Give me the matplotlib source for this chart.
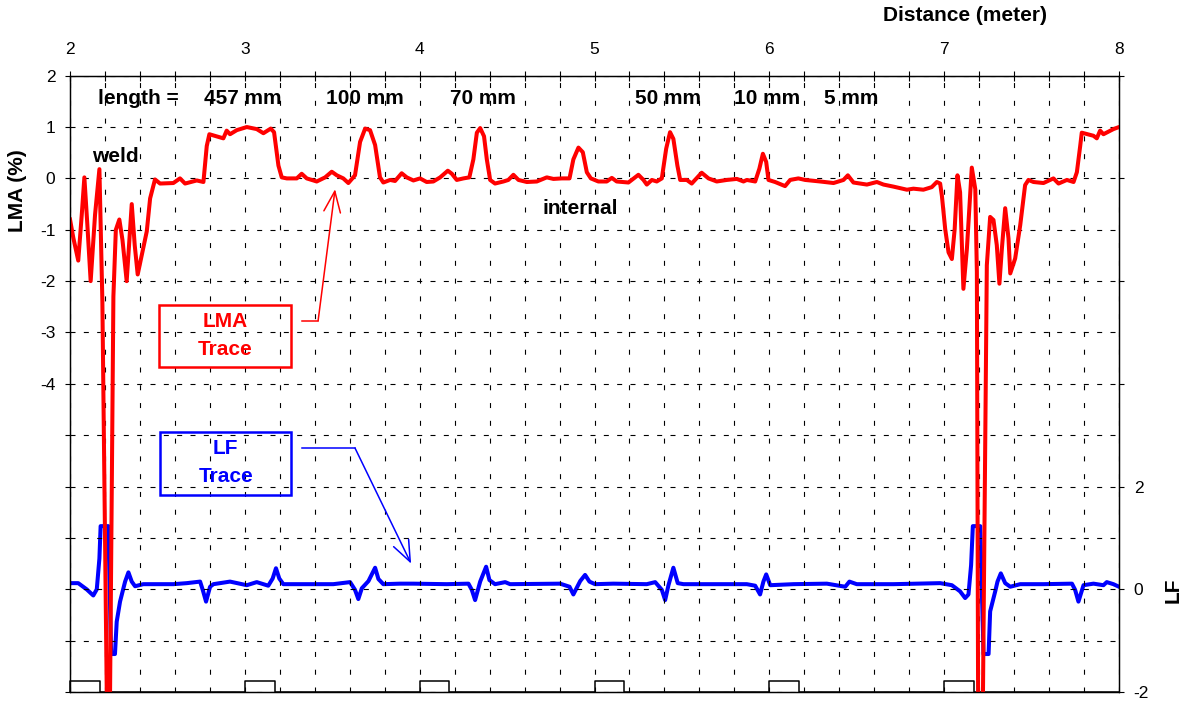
import matplotlib
matplotlib.use("Agg")
import matplotlib.pyplot as plt
import numpy as np
from matplotlib.patches import Rectangle

plt.rcParams["font.family"] = ["Liberation Sans", "DejaVu Sans"]

# LMA trace (%)
lma_x = [2.000, 2.019, 2.047, 2.067, 2.082, 2.099, 2.118, 2.143, 2.168, 2.185,
         2.210, 2.219, 2.229, 2.248, 2.262, 2.282, 2.300, 2.324, 2.353, 2.370,
         2.387, 2.439, 2.458, 2.486, 2.515, 2.591, 2.629, 2.658, 2.725, 2.763,
         2.782, 2.797, 2.858, 2.877, 2.896, 2.915, 2.954, 3.011, 3.068, 3.106,
         3.148, 3.167, 3.192, 3.211, 3.240, 3.297, 3.325, 3.354, 3.411, 3.459,
         3.497, 3.526, 3.563, 3.592, 3.630, 3.659, 3.688, 3.716, 3.745, 3.773,
         3.792, 3.831, 3.859, 3.897, 3.926, 3.964, 4.002, 4.040, 4.078, 4.117,
         4.161, 4.184, 4.212, 4.250, 4.284, 4.307, 4.327, 4.346, 4.368, 4.384,
         4.403, 4.431, 4.479, 4.507, 4.536, 4.565, 4.613, 4.670, 4.727, 4.765,
         4.813, 4.857, 4.879, 4.908, 4.933, 4.956, 4.979, 5.022, 5.070, 5.099,
         5.127, 5.194, 5.251, 5.280, 5.299, 5.328, 5.356, 5.385, 5.410, 5.432,
         5.451, 5.474, 5.490, 5.528, 5.556, 5.613, 5.652, 5.699, 5.757, 5.814,
         5.852, 5.871, 5.919, 5.943, 5.963, 5.982, 5.995, 6.033, 6.090, 6.119,
         6.166, 6.205, 6.291, 6.367, 6.424, 6.449, 6.481, 6.558, 6.615, 6.653,
         6.710, 6.787, 6.824, 6.881, 6.929, 6.958, 6.977, 6.987, 7.006, 7.025,
         7.044, 7.060, 7.076, 7.091, 7.110, 7.130, 7.158, 7.178, 7.187, 7.194,
         7.208, 7.222, 7.244, 7.263, 7.282, 7.301, 7.316, 7.330, 7.349, 7.368,
         7.378, 7.406, 7.435, 7.463, 7.482, 7.511, 7.568, 7.625, 7.654, 7.702,
         7.740, 7.759, 7.778, 7.787, 7.854, 7.873, 7.892, 7.911, 7.968, 8.000]
lma_y = [-0.80, -1.16, -1.60, -0.71, 0.02, -0.90, -2.00, -0.71, 0.18, -2.40,
         -10.0, -10.8, -10.0, -2.30, -1.00, -0.80, -1.20, -2.00, -0.50, -1.30,
         -1.87, -1.03, -0.39, -0.02, -0.10, -0.09, 0.00, -0.10, -0.04, -0.07,
         0.63, 0.86, 0.80, 0.78, 0.93, 0.86, 0.94, 1.00, 0.96, 0.88,
         0.97, 0.90, 0.25, 0.02, 0.00, 0.00, 0.09, 0.00, -0.06, 0.02,
         0.13, 0.06, 0.00, -0.09, 0.06, 0.71, 0.97, 0.94, 0.65, 0.02,
         -0.08, -0.03, -0.05, 0.10, 0.02, -0.04, 0.00, -0.07, -0.06, 0.02,
         0.15, 0.09, -0.03, 0.00, 0.02, 0.37, 0.89, 0.98, 0.82, 0.37,
         -0.03, -0.10, -0.06, -0.03, 0.07, -0.03, -0.07, -0.06, 0.02, -0.01,
         0.00, 0.00, 0.37, 0.60, 0.51, 0.12, 0.00, -0.06, -0.06, 0.01,
         -0.06, -0.08, 0.07, -0.03, -0.12, -0.03, -0.06, 0.00, 0.58, 0.90,
         0.77, 0.25, -0.03, -0.03, -0.10, 0.11, 0.00, -0.06, -0.03, -0.01,
         -0.06, -0.03, -0.06, 0.19, 0.48, 0.32, -0.03, -0.07, -0.15, -0.03,
         0.00, -0.03, -0.06, -0.09, -0.03, 0.06, -0.08, -0.12, -0.07, -0.12,
         -0.16, -0.22, -0.20, -0.22, -0.17, -0.07, -0.10, -0.34, -0.99, -1.44,
         -1.57, -0.99, 0.06, -0.27, -2.15, -1.37, 0.21, -0.21, -1.82, -10.0,
         -10.8, -10.0, -1.69, -0.75, -0.81, -1.30, -2.05, -1.37, -0.58, -1.17,
         -1.85, -1.56, -0.91, -0.13, -0.03, -0.07, -0.09, 0.00, -0.10, -0.03,
         -0.07, 0.12, 0.63, 0.89, 0.83, 0.78, 0.93, 0.86, 0.96, 1.00]

# LF trace
lf_x = [2.000, 2.047, 2.095, 2.133, 2.153, 2.168, 2.175, 2.219, 2.235, 2.257,
        2.267, 2.286, 2.315, 2.334, 2.353, 2.372, 2.419, 2.496, 2.591, 2.668,
        2.744, 2.759, 2.778, 2.801, 2.820, 2.915, 3.011, 3.068, 3.134, 3.159,
        3.178, 3.197, 3.220, 3.316, 3.506, 3.602, 3.630, 3.649, 3.669, 3.707,
        3.745, 3.764, 3.792, 3.888, 3.964, 4.155, 4.279, 4.298, 4.317, 4.346,
        4.380, 4.399, 4.431, 4.489, 4.517, 4.803, 4.857, 4.879, 4.918, 4.946,
        4.971, 5.003, 5.108, 5.299, 5.347, 5.385, 5.404, 5.423, 5.451, 5.476,
        5.509, 5.871, 5.919, 5.947, 5.966, 5.982, 6.005, 6.138, 6.329, 6.434,
        6.458, 6.500, 6.710, 6.977, 7.044, 7.091, 7.120, 7.139, 7.154, 7.164,
        7.206, 7.225, 7.254, 7.263, 7.292, 7.305, 7.324, 7.349, 7.378, 7.435,
        7.568, 7.731, 7.749, 7.768, 7.797, 7.854, 7.911, 7.930, 7.968, 8.000]
lf_y = [0.12, 0.12, 0.00, -0.12, 0.00, 0.60, 1.23, 1.23, -1.26, -1.26,
        -0.63, -0.24, 0.15, 0.33, 0.15, 0.06, 0.10, 0.10, 0.10, 0.12,
        0.15, -0.01, -0.24, 0.05, 0.10, 0.15, 0.08, 0.14, 0.07, 0.21,
        0.41, 0.21, 0.10, 0.10, 0.10, 0.14, -0.01, -0.19, 0.02, 0.16,
        0.42, 0.20, 0.10, 0.11, 0.11, 0.10, 0.11, -0.01, -0.21, 0.15,
        0.44, 0.18, 0.10, 0.14, 0.10, 0.11, 0.05, -0.10, 0.16, 0.28,
        0.15, 0.10, 0.11, 0.10, 0.14, -0.01, -0.21, 0.08, 0.42, 0.12,
        0.10, 0.10, 0.07, -0.10, 0.15, 0.29, 0.08, 0.10, 0.11, 0.05,
        0.15, 0.10, 0.10, 0.12, 0.08, -0.04, -0.17, -0.10, 0.47, 1.23,
        1.23, -1.26, -1.26, -0.43, -0.04, 0.15, 0.31, 0.12, 0.05, 0.10,
        0.10, 0.11, -0.01, -0.24, 0.08, 0.11, 0.08, 0.14, 0.10, 0.05]

# metre marker pulses along the bottom
pulse_starts = [2.0, 3.0, 4.0, 5.0, 6.0, 7.0]
pulse_width = 0.17
pulse_height = 0.22

# defect labels: (text, x position)
defect_labels = [("length =", 2.389), ("457 mm", 2.990), ("100 mm", 3.688),
                 ("70 mm", 4.363), ("50 mm", 5.420), ("10 mm", 5.987),
                 ("5 mm", 6.468)]

RED = "#ff0000"
BLUE = "#0000ff"

fig = plt.figure(figsize=(11.83, 7.04), dpi=100)
ax = fig.add_axes([0.0592, 0.017, 0.8867, 0.8755])
ax2 = ax.twinx()
ax.set_zorder(ax2.get_zorder() + 1)
ax.patch.set_visible(False)

ax.set_xlim(2, 8)
ax.set_ylim(-10, 2)
ax2.set_ylim(-2, 10)

# top x axis, ticks every 0.2 m
xt = np.round(np.arange(2, 8.001, 0.2), 1)
ax.xaxis.tick_top()
ax.set_xticks(xt)
ax.set_xticklabels([f"{v:.0f}" if abs(v - round(v)) < 1e-6 else "" for v in xt])
ax.tick_params(axis="x", direction="inout", length=7, width=0.8, pad=10,
               labelsize=12.5, bottom=False)

yt = list(range(-10, 3))
ax.set_yticks(yt)
ax.set_yticklabels([str(v) if v >= -4 and v != -10 else "" for v in yt])
ax.tick_params(axis="y", direction="out", length=3.6, width=0.8, pad=7,
               labelsize=12.5)

ax2.set_yticks(range(-2, 11, 2))
ax2.set_yticklabels([str(v) if v <= 2 else "" for v in range(-2, 11, 2)])
ax2.tick_params(axis="y", direction="out", length=3.6, width=0.8, pad=7,
                labelsize=12.5)

for a in (ax, ax2):
    for s in a.spines.values():
        s.set_linewidth(0.9)

ax.grid(axis="y", color="black", lw=0.8, ls=(0, (4.5, 7.5)))
ax.grid(axis="x", color="black", lw=0.8, ls=(0, (4.5, 11.5)))
ax.set_axisbelow(True)

ax2.plot(lf_x, lf_y, color=BLUE, lw=2.9, solid_joinstyle="round")
ax.plot(lma_x, lma_y, color=RED, lw=2.9, solid_joinstyle="round")

# marker pulses
px, py = [2.0], [-10.0]
for s in pulse_starts:
    px += [s, s, s + pulse_width, s + pulse_width]
    py += [-10.0, -10.0 + pulse_height, -10.0 + pulse_height, -10.0]
px.append(8.0)
py.append(-10.0)
ax.plot(px, py, color="black", lw=1.1, clip_on=False, zorder=1)

bold = dict(fontsize=15, fontweight="bold", ha="center", va="center")
for txt, xv in defect_labels:
    ax.text(xv, 1.55, txt, **bold)
ax.text(2.257, 0.42, "weld", **bold)
ax.text(4.92, -0.58, "internal", **bold)

# callout boxes
ax.add_patch(Rectangle((2.509, -3.68), 0.755, 1.22, fill=False, ec=RED, lw=1.8,
                       zorder=5))
ax.text(2.887, -3.06, "LMA\nTrace", color=RED, linespacing=1.6, zorder=6, **bold)
ax.plot([3.327, 3.419], [-2.77, -2.77], color=RED, lw=1.1)
ax.annotate("", xy=(3.516, -0.21), xytext=(3.419, -2.77),
            arrowprops=dict(arrowstyle="->,head_length=1.5,head_width=0.6",
                            color=RED, lw=1.1, shrinkA=0, shrinkB=0))

ax.add_patch(Rectangle((2.515, -6.16), 0.749, 1.22, fill=False, ec=BLUE, lw=1.8,
                       zorder=5))
ax.text(2.89, -5.54, "LF\nTrace", color=BLUE, linespacing=1.6, zorder=6, **bold)
ax.plot([3.327, 3.63], [-5.25, -5.25], color=BLUE, lw=1.1)
ax.annotate("", xy=(3.951, -7.5), xytext=(3.63, -5.25),
            arrowprops=dict(arrowstyle="->,head_length=1.5,head_width=0.6",
                            color=BLUE, lw=1.1, shrinkA=0, shrinkB=0))

fig.text(0.816, 0.978, "Distance (meter)", fontsize=15, fontweight="bold",
         ha="center", va="center")
fig.text(0.015, 0.729, "LMA (%)", fontsize=15, fontweight="bold", rotation=90,
         ha="center", va="center")
fig.text(0.9915, 0.162, "LF", fontsize=15, fontweight="bold", rotation=90,
         ha="center", va="center")

fig.savefig("out.png", dpi=100)
